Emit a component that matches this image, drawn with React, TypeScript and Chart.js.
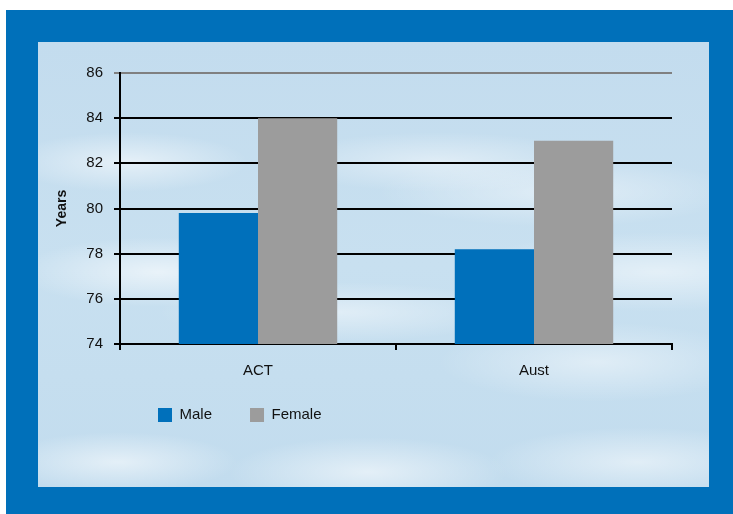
import React, { useEffect, useRef } from "react";
import { Chart, registerables } from "chart.js";

Chart.register(...registerables);

const categories = ["ACT", "Aust"];
const maleValues = [79.8, 78.2];
const femaleValues = [84.0, 83.0];
const seriesNames = ["Male", "Female"];
const yTicks = [74, 76, 78, 80, 82, 84, 86];
const yAxisTitle = "Years";

const FONT = "'Liberation Sans', Arial, Helvetica, sans-serif";

const legendShift = {
  id: "legendShift",
  afterLayout(chart: any) {
    const lg = chart.legend;
    if (lg) {
      lg.top -= 11.5;
      lg.bottom -= 11.5;
    }
  },
};

export default function App() {
  const canvasRef = useRef<HTMLCanvasElement | null>(null);

  useEffect(() => {
    const canvas = canvasRef.current;
    if (!canvas) return;
    const chart = new Chart(canvas, {
      type: "bar",
      data: {
        labels: categories,
        datasets: [
          {
            label: seriesNames[0],
            data: maleValues,
            backgroundColor: "#0070BB",
            borderWidth: 0,
            barPercentage: 1,
            categoryPercentage: 0.574,
          },
          {
            label: seriesNames[1],
            data: femaleValues,
            backgroundColor: "#9C9C9C",
            borderWidth: 0,
            barPercentage: 1,
            categoryPercentage: 0.574,
          },
        ],
      },
      plugins: [legendShift],
      options: {
        responsive: false,
        animation: false,
        devicePixelRatio: 1,
        layout: { padding: { left: 50, right: 61, top: 73, bottom: 70 } },
        plugins: {
          tooltip: { enabled: false },
          legend: {
            position: "bottom",
            align: "start",
            fullSize: false,
            labels: {
              boxWidth: 14,
              boxHeight: 14,
              padding: 38,
              color: "#111",
              font: { family: FONT, size: 15 },
            },
          },
        },
        scales: {
          x: {
            afterFit: (s: any) => {
              s.height = 37;
            },
            grid: {
              display: true,
              drawOnChartArea: false,
              drawTicks: true,
              tickLength: 6,
              color: "#000",
              lineWidth: 2,
            },
            border: { display: true, color: "#000", width: 2 },
            ticks: {
              color: "#111",
              padding: 12,
              font: { family: FONT, size: 15 },
            },
          },
          y: {
            min: 74,
            max: 86,
            afterFit: (s: any) => {
              s.width = 70;
            },
            afterBuildTicks: (s: any) => {
              s.ticks = yTicks.map((v) => ({ value: v }));
            },
            grid: {
              color: (ctx: any) => (ctx.tick && ctx.tick.value === 86 ? "#808080" : "#000"),
              lineWidth: 2,
              tickLength: 6,
            },
            border: { display: true, color: "#000", width: 2 },
            ticks: {
              color: "#111",
              padding: 11,
              font: { family: FONT, size: 15 },
            },
            title: {
              display: true,
              text: yAxisTitle,
              color: "#111",
              font: { family: FONT, size: 14, weight: "bold" },
            },
          },
        },
      },
    });
    return () => chart.destroy();
  }, []);

  const sky = [
    "radial-gradient(ellipse 120px 30px at 90px 120px, rgba(255,255,255,0.55), rgba(255,255,255,0))",
    "radial-gradient(ellipse 140px 35px at 120px 230px, rgba(255,255,255,0.6), rgba(255,255,255,0))",
    "radial-gradient(ellipse 160px 30px at 400px 120px, rgba(255,255,255,0.45), rgba(255,255,255,0))",
    "radial-gradient(ellipse 180px 35px at 520px 150px, rgba(255,255,255,0.45), rgba(255,255,255,0))",
    "radial-gradient(ellipse 200px 40px at 620px 230px, rgba(255,255,255,0.5), rgba(255,255,255,0))",
    "radial-gradient(ellipse 180px 30px at 300px 270px, rgba(255,255,255,0.45), rgba(255,255,255,0))",
    "radial-gradient(ellipse 160px 40px at 560px 320px, rgba(255,255,255,0.45), rgba(255,255,255,0))",
    "radial-gradient(ellipse 120px 30px at 80px 420px, rgba(255,255,255,0.55), rgba(255,255,255,0))",
    "radial-gradient(ellipse 140px 35px at 330px 430px, rgba(255,255,255,0.55), rgba(255,255,255,0))",
    "radial-gradient(ellipse 150px 35px at 600px 420px, rgba(255,255,255,0.5), rgba(255,255,255,0))",
    "linear-gradient(180deg, #c3dcee 0%, #c8e0f0 50%, #c2dcee 100%)",
  ].join(", ");

  return (
    <div style={{ position: "fixed", left: 0, top: 0, width: 733, height: 514, background: "#fff", overflow: "hidden" }}>
      <div style={{ position: "absolute", left: 6, top: 10, width: 727, height: 504, background: "#0070BA" }} />
      <div style={{ position: "absolute", left: 38, top: 42, width: 671, height: 445, background: sky }} />
      <canvas ref={canvasRef} width={733} height={514} style={{ position: "absolute", left: 0, top: 0, width: 733, height: 514 }} />
    </div>
  );
}
